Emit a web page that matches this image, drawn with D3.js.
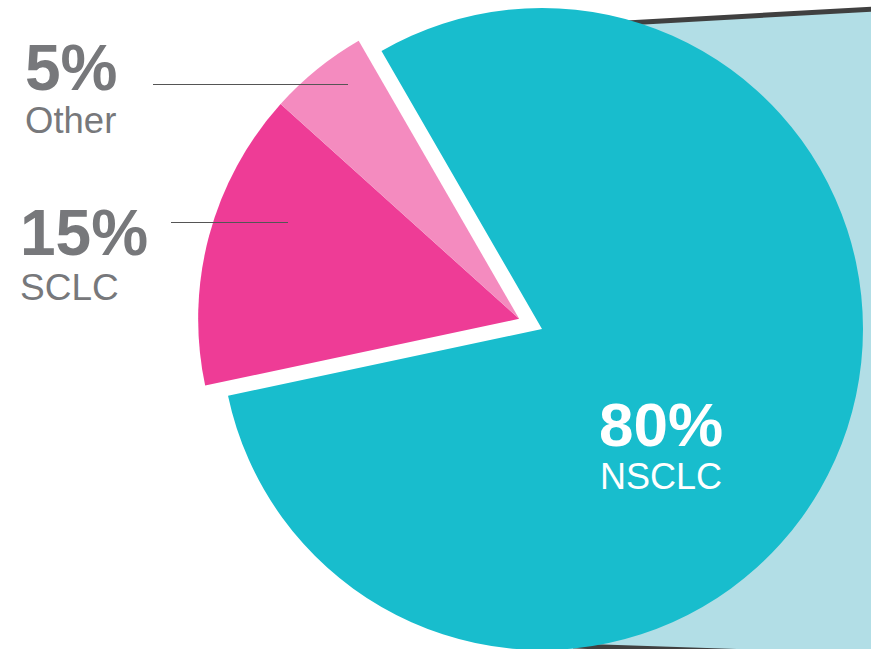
<!DOCTYPE html>
<html><head><meta charset="utf-8">
<script src="https://cdn.jsdelivr.net/npm/d3@7"></script>
<style>html,body{margin:0;padding:0;background:#fff;overflow:hidden}svg{display:block}</style>
</head><body>
<svg id="chart" width="871" height="649"></svg>
<script>
const categories = ["NSCLC", "SCLC", "Other"];
const values = [80, 15, 5];
const percentLabels = ["80%", "15%", "5%"];
const colors = ["#18BDCD", "#EE3C96", "#F48BBF"];

const W = 871, H = 649;
const cx = 542, cy = 329, R = 321;
const startDeg = -30;
const explode = 25;

const svg = d3.select("#chart");

// callout background (zoom wedge)
const topL = [573, 26], topR = [900, 7.5];
const botL = [573, 646], botR = [900, 657];
svg.append("path")
  .attr("d", d3.line()([topL, topR, botR, botL]) + "Z")
  .attr("fill", "#B2DEE6");
svg.append("path").attr("d", d3.line()([topL, topR]))
  .attr("stroke", "#404040").attr("stroke-width", 5).attr("fill", "none");
svg.append("path").attr("d", d3.line()([botL, botR]))
  .attr("stroke", "#404040").attr("stroke-width", 5).attr("fill", "none");

const pie = d3.pie().sort(null).value(d => d)
  .startAngle(startDeg * Math.PI / 180)
  .endAngle((startDeg + 360) * Math.PI / 180);
const arcs = pie(values);
const arc = d3.arc().innerRadius(0).outerRadius(R);

// explode direction for the non-NSCLC group
const gStart = arcs[1].startAngle, gEnd = arcs[2].endAngle;
const mid = (gStart + gEnd) / 2;
const dx = Math.sin(mid) * explode, dy = -Math.cos(mid) * explode;

const g = svg.append("g").attr("transform", `translate(${cx},${cy})`);
g.selectAll("path.slice").data(arcs).enter().append("path")
  .attr("class", "slice")
  .attr("d", arc)
  .attr("fill", (d, i) => colors[i])
  .attr("transform", (d, i) => i === 0 ? null : `translate(${dx},${dy})`);

// leader lines
const gray = "#77787B";
svg.append("line").attr("x1", 153).attr("x2", 348).attr("y1", 84.5).attr("y2", 84.5)
  .attr("stroke", "#555").attr("stroke-width", 1.2);
svg.append("line").attr("x1", 171).attr("x2", 288).attr("y1", 222.5).attr("y2", 222.5)
  .attr("stroke", "#555").attr("stroke-width", 1.2);

const font = "Liberation Sans, Arial, sans-serif";
function label(x, y1, y2, pct, name, color, anchor, s1, s2) {
  svg.append("text").attr("x", x).attr("y", y1).text(pct)
    .attr("font-family", font).attr("font-weight", "bold").attr("font-size", s1)
    .attr("fill", color).attr("text-anchor", anchor);
  svg.append("text").attr("x", x).attr("y", y2).text(name)
    .attr("font-family", font).attr("font-size", s2)
    .attr("fill", color).attr("text-anchor", anchor);
}
label(25, 90, 133, percentLabels[2], categories[2], gray, "start", 64, 36.5);
label(20, 255, 300, percentLabels[1], categories[1], gray, "start", 64, 37);
label(661, 446, 489, percentLabels[0], categories[0], "#fff", "middle", 62, 36);
</script>
</body></html>
